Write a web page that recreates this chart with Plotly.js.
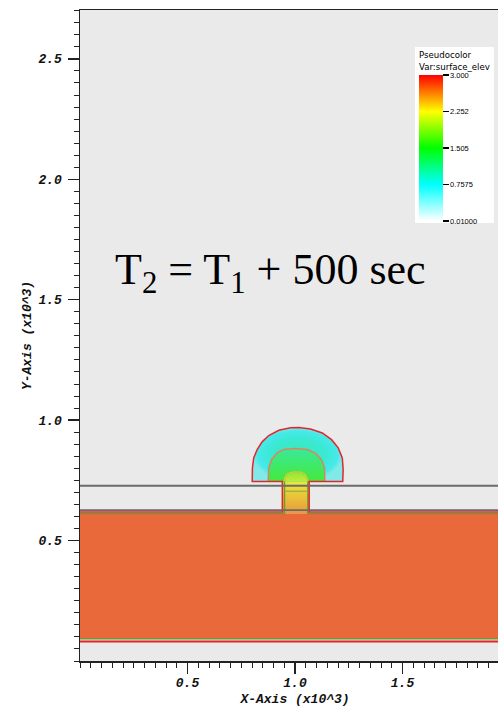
<!DOCTYPE html>
<html>
<head>
<meta charset="utf-8">
<script src="https://cdn.plot.ly/plotly-3.0.1.min.js"></script>
<style>
html,body{margin:0;padding:0;background:#fff;overflow:hidden;width:498px;height:707px}
#chart{width:510px;height:707px}
</style>
</head>
<body>
<div id="chart"></div>
<script>
// ---------------- data (x, y in units of 10^3) ----------------
// colour table anchors of the Pseudocolor legend (surface_elev)
const legendValues = [0.01, 0.7575, 1.505, 2.2525, 3.0];
const legendLabels = ['0.01000', '0.7575', '1.505', '2.252', '3.000'];
const xTickVals = [0.5, 1.0, 1.5];
const xTickText = ['0.5', '1.0', '1.5'];
const yTickVals = [0.5, 1.0, 1.5, 2.0, 2.5];
const yTickText = ['0.5', '1.0', '1.5', '2.0', '2.5'];

// flooded slab (cell edges) and its elevation
const slabX = [0, 2.0];
const slabY = [0.092, 0.613];
const slabElev = [[2.8]];

// stem (channel) outline and elevation bottom -> top
const stemX = [0.941, 0.941, 1.066, 1.066];
const stemY = [0.613, 0.745, 0.745, 0.613];
const stemElev = [2.6, 2.25];

// outer dome contour (edge of wet area)
const domeOuterX = [0.801, 0.802, 0.808, 0.824, 0.847, 0.878, 0.925, 0.979, 1.018, 1.072, 1.127, 1.170, 1.201, 1.220, 1.224, 1.222];
const domeOuterY = [0.745, 0.802, 0.843, 0.878, 0.910, 0.936, 0.958, 0.968, 0.969, 0.963, 0.947, 0.919, 0.885, 0.843, 0.795, 0.745];
const domeOuterElev = [1.0, 0.85, 0.7, 0.45];  // centre -> rim

// middle dome contour
const domeMidX = [0.875, 0.878, 0.891, 0.917, 0.948, 1.002, 1.057, 1.095, 1.123, 1.137, 1.139];
const domeMidY = [0.745, 0.802, 0.836, 0.864, 0.878, 0.882, 0.878, 0.862, 0.836, 0.802, 0.745];
const domeMidElev = [1.55, 1.1];               // base -> top

// inner dome contour (above the stem)
const domeInnerX = [0.951, 0.951, 0.964, 0.987, 1.026, 1.049, 1.060, 1.060];
const domeInnerY = [0.745, 0.760, 0.777, 0.785, 0.785, 0.774, 0.753, 0.745];
const domeInnerElev = [2.1, 1.85];             // base -> top

// horizontal mesh / contour lines
const waterLineY = 0.728;
const slabTopGrayY = 0.6265;
const slabTopRedY = 0.619;
const slabTopGreenY = 0.6128;
const slabBottomGreenY = 0.092;
const slabBottomRedY = 0.081;
const stemInnerLineY = 0.705;

// ---------------- colours ----------------
const legendRGB = [[255,255,255],[0,255,255],[0,255,0],[255,255,0],[255,0,0]];
function pureRGB(v){
  const s = legendValues;
  if (v <= s[0]) return legendRGB[0];
  for (let i = 1; i < s.length; i++) {
    if (v <= s[i]) {
      const t = (v - s[i-1]) / (s[i] - s[i-1]);
      return legendRGB[i-1].map((c, k) => c + t * (legendRGB[i][k] - c));
    }
  }
  return legendRGB[legendRGB.length - 1];
}
function shaded(v){
  const c = pureRGB(v).map(x => Math.round(0.686 * x + 58));
  return 'rgb(' + c.join(',') + ')';
}
const vmin = legendValues[0], vmax = legendValues[legendValues.length - 1];
const pureScale = legendValues.map((v, i) => [(v - vmin) / (vmax - vmin), 'rgb(' + legendRGB[i].join(',') + ')']);
const shadedScale = legendValues.map(v => [(v - vmin) / (vmax - vmin), shaded(v)]);
function twoStop(vals){ return vals.map((v, i) => [i / (vals.length - 1), shaded(v)]); }

const RED = '#e3262c', GREEN = '#6e9a30', SALMON = '#d98660', YGREEN = '#c5d93a', GRAY = '#6b6b6b';

const traces = [];
// slab as a heatmap cell
traces.push({type:'heatmap', x: slabX, y: slabY, z: slabElev, colorscale: shadedScale,
  zmin: vmin, zmax: vmax, showscale: false, hoverinfo: 'skip'});
// legend (colour bar) carried by an invisible copy of the slab
traces.push({type:'heatmap', x: slabX, y: slabY, z: slabElev, colorscale: pureScale,
  zmin: vmin, zmax: vmax, opacity: 0, showscale: true, hoverinfo: 'skip',
  colorbar: {
    x: (415 - 80) / 430, xanchor: 'left', xref: 'paper',
    y: (661 - 47) / 651, yanchor: 'top', yref: 'paper',
    len: 176, lenmode: 'pixels', thickness: 24, thicknessmode: 'pixels',
    xpad: 4, ypad: 2, bgcolor: '#ffffff', borderwidth: 0, outlinewidth: 0,
    tickmode: 'array', tickvals: legendValues, ticktext: legendLabels,
    ticks: 'outside', ticklen: 6, tickwidth: 1.5, tickcolor: '#000',
    tickfont: {family: 'Liberation Sans', size: 7.5, color: '#000'},
    title: {text: 'Pseudocolor<br>Var:surface_elev', side: 'top',
            font: {family: 'DejaVu Sans', size: 8.6, color: '#000'}}
  }});

// stem fill
traces.push({type:'scatter', mode:'lines', x: stemX, y: stemY, fill:'toself',
  line:{width:0}, hoverinfo:'skip',
  fillgradient:{type:'vertical', start: stemY[0], stop: stemY[1], colorscale: twoStop(stemElev)}});
// dome fills
traces.push({type:'scatter', mode:'lines', x: domeOuterX, y: domeOuterY, fill:'toself',
  line:{width:0}, hoverinfo:'skip',
  fillgradient:{type:'radial', colorscale: [[0, shaded(domeOuterElev[0])],[0.6, shaded(domeOuterElev[1])],[0.88, shaded(domeOuterElev[2])],[1, shaded(domeOuterElev[3])]]}});
traces.push({type:'scatter', mode:'lines', x: domeMidX, y: domeMidY, fill:'toself',
  line:{width:0}, hoverinfo:'skip',
  fillgradient:{type:'vertical', start: domeMidY[0], stop: Math.max(...domeMidY), colorscale: twoStop(domeMidElev)}});
traces.push({type:'scatter', mode:'lines', x: domeInnerX, y: domeInnerY, fill:'toself',
  line:{width:0}, hoverinfo:'skip',
  fillgradient:{type:'vertical', start: domeInnerY[0], stop: Math.max(...domeInnerY), colorscale: twoStop(domeInnerElev)}});

function hline(y, color, width){
  return {type:'scatter', mode:'lines', x: slabX, y: [y, y], line:{color, width}, hoverinfo:'skip'};
}
// green contour: slab top + stem sides + inner dome
traces.push({type:'scatter', mode:'lines',
  x: [slabX[0], domeInnerX[0]].concat(domeInnerX, [domeInnerX[domeInnerX.length-1], slabX[1]]),
  y: [slabTopGreenY, slabTopGreenY].concat(domeInnerY, [slabTopGreenY, slabTopGreenY]),
  line:{color: GREEN, width: 1.5}, hoverinfo:'skip'});
traces.push({type:'scatter', mode:'lines', x: domeInnerX, y: domeInnerY,
  line:{color: YGREEN, width: 1.5}, hoverinfo:'skip'});
// line inside stem
traces.push({type:'scatter', mode:'lines', x: [domeInnerX[0], domeInnerX[domeInnerX.length-1]], y: [stemInnerLineY, stemInnerLineY],
  line:{color: '#9aa84c', width: 1.2}, hoverinfo:'skip'});
// middle contour
traces.push({type:'scatter', mode:'lines', x: domeMidX, y: domeMidY,
  line:{color: SALMON, width: 1.5}, hoverinfo:'skip'});
// red contour: slab top -> stem -> outer dome -> stem -> slab top
traces.push({type:'scatter', mode:'lines',
  x: [slabX[0], stemX[0], stemX[1]].concat(domeOuterX, [stemX[2], stemX[3], slabX[1]]),
  y: [slabTopRedY, slabTopRedY, stemY[1]].concat(domeOuterY, [stemY[2], slabTopRedY, slabTopRedY]),
  line:{color: RED, width: 1.5}, hoverinfo:'skip'});
// horizontal lines
traces.push(hline(slabTopGrayY, GRAY, 1.8));
traces.push(hline(waterLineY, GRAY, 2));
traces.push(hline(slabBottomGreenY, GREEN, 1.5));
traces.push(hline(slabBottomRedY, RED, 1.8));

const monoFont = {family: 'Liberation Mono', size: 13, color: '#111', weight: 'bold', style: 'italic'};
const axisCommon = {
  showgrid: false, zeroline: false, showline: true, linecolor: '#222', linewidth: 1.5, mirror: true,
  ticks: 'outside', ticklen: 11, tickwidth: 1.5, tickcolor: '#222', tickfont: monoFont,
  tickmode: 'array',
  minor: {tickmode: 'linear', tick0: 0, dtick: 0.05, ticks: 'outside', ticklen: 5, tickwidth: 1, tickcolor: '#222', showgrid: false},
  fixedrange: true
};
const layout = {
  width: 510, height: 707,
  margin: {l: 80, r: 0, t: 10, b: 46},
  paper_bgcolor: '#ffffff', plot_bgcolor: '#eaeaea',
  showlegend: false,
  xaxis: Object.assign({}, axisCommon, {range: [0, 2.0], tickvals: xTickVals, ticktext: xTickText,
    ticklabelstandoff: -2,
    title: {text: 'X-Axis (x10^3)', font: monoFont, standoff: 11}}),
  yaxis: Object.assign({}, axisCommon, {range: [0, 2.703], tickvals: yTickVals, ticktext: yTickText,
    ticklabelstandoff: 3,
    title: {text: 'Y-Axis (x10^3)', font: monoFont, standoff: 4}}),
  annotations: [{
    text: 'T<sub>2</sub> = T<sub>1</sub> + 500 sec', xref: 'x', yref: 'y', x: 0.888, y: 1.612,
    showarrow: false, font: {family: 'Liberation Serif', size: 44, color: '#000'}
  }]
};
Plotly.newPlot('chart', traces, layout, {displayModeBar: false, staticPlot: true});
</script>
</body>
</html>
